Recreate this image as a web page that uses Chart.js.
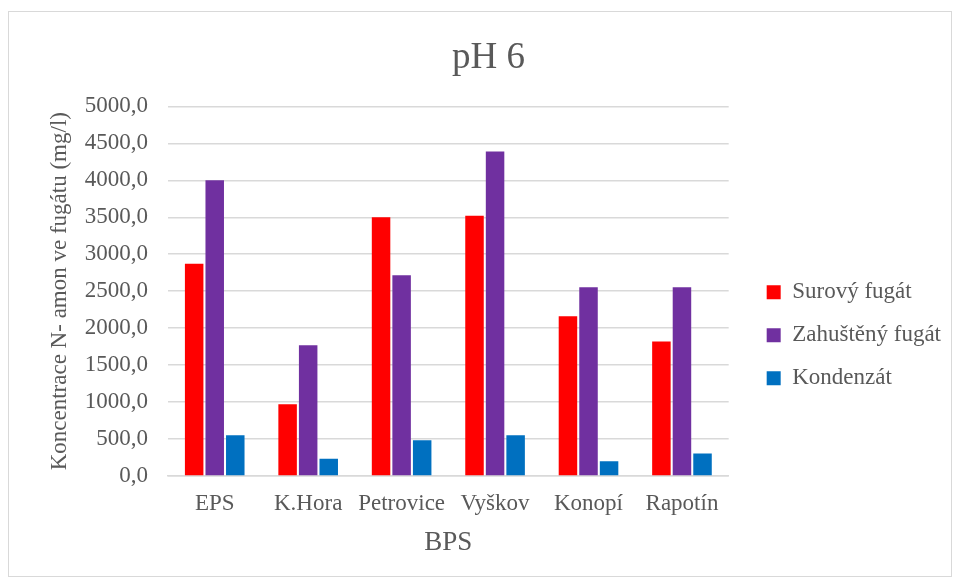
<!DOCTYPE html>
<html>
<head>
<meta charset="utf-8">
<script src="https://cdn.jsdelivr.net/npm/chart.js@4.4.1/dist/chart.umd.min.js"></script>
<style>
  html, body { margin: 0; padding: 0; background: #fff; }
  #wrap { position: absolute; left: 8px; top: 11px; width: 944px; height: 566px; border: 1px solid #d9d9d9; box-sizing: border-box; }
  #c { display: block; }
</style>
</head>
<body>
<div id="wrap"><canvas id="c" width="942" height="564"></canvas></div>
<script>
const categories = ["EPS", "K.Hora", "Petrovice", "Vyškov", "Konopí", "Rapotín"];
const seriesNames = ["Surový fugát", "Zahuštěný fugát", "Kondenzát"];
const surovy = [2870, 970, 3500, 3520, 2160, 1820];
const zahusteny = [4000, 1770, 2715, 4390, 2555, 2555];
const kondenzat = [550, 235, 485, 550, 200, 305];
const chartTitle = "pH 6";
const yTitle = "Koncentrace N- amon ve fugátu (mg/l)";
const xTitle = "BPS";

const grey = "#595959";
const serif = "'Liberation Serif', 'Times New Roman', serif";

new Chart(document.getElementById('c'), {
  type: 'bar',
  data: {
    labels: categories,
    datasets: [
      { label: seriesNames[0], data: surovy, backgroundColor: '#FF0000' },
      { label: seriesNames[1], data: zahusteny, backgroundColor: '#7030A0' },
      { label: seriesNames[2], data: kondenzat, backgroundColor: '#0070C0' }
    ]
  },
  options: {
    responsive: false,
    animation: false,
    devicePixelRatio: 1,
    datasets: { bar: { categoryPercentage: 0.66, barPercentage: 0.9, borderWidth: 0 } },
    layout: { padding: { left: 17, right: 0, top: 24, bottom: 17 } },
    plugins: {
      title: {
        display: true, text: chartTitle, color: grey,
        font: { family: serif, size: 37, weight: 'normal' },
        padding: { top: 0, bottom: 26 }
      },
      legend: {
        position: 'right',
        fullSize: false,
        maxWidth: 260,
        title: { display: true, text: ' ', color: 'rgba(0,0,0,0)', font: { size: 20 }, padding: 32 },
        labels: {
          color: grey, font: { family: serif, size: 23 },
          boxWidth: 14, boxHeight: 14, padding: 20
        }
      },
      tooltip: { enabled: false }
    },
    scales: {
      x: {
        grid: { display: false },
        border: { display: true, color: '#d9d9d9', width: 1.5 },
        ticks: { color: grey, font: { family: serif, size: 23 }, padding: 6, maxRotation: 0, minRotation: 0, autoSkip: false },
        title: { display: true, text: xTitle, color: grey, font: { family: serif, size: 27 }, padding: { top: 3, bottom: 0 } }
      },
      y: {
        min: 0, max: 5000,
        grid: { color: '#d9d9d9', lineWidth: 1.5, drawTicks: false },
        border: { display: false },
        ticks: {
          stepSize: 500, color: grey, font: { family: serif, size: 23 }, padding: 20,
          callback: v => Number(v).toFixed(1).replace('.', ',')
        },
        title: { display: true, text: yTitle, color: grey, font: { family: serif, size: 23 }, padding: { top: 20, bottom: 0 } },
        afterFit: s => { s.width = 142; }
      },
      gap: {
        position: 'right', display: true,
        grid: { display: false }, border: { display: false },
        ticks: { display: false },
        afterFit: s => { s.width = 18; }
      }
    }
  }
});
</script>
</body>
</html>
